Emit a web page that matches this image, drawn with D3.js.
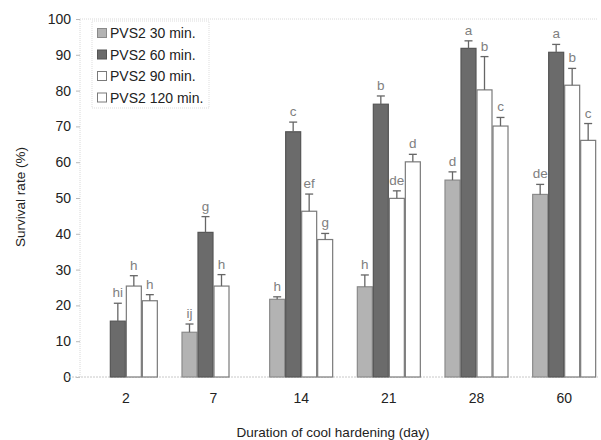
<!DOCTYPE html>
<html><head><meta charset="utf-8">
<script src="https://cdn.jsdelivr.net/npm/d3@7"></script>
<style>body{margin:0;background:#fff;}svg{display:block;font-family:"Liberation Sans",Arial,sans-serif;}</style>
</head><body><svg id="c" width="601" height="440"></svg>
<script>
const categories = ["2", "7", "14", "21", "28", "60"];
const seriesNames = ["PVS2 30 min.", "PVS2 60 min.", "PVS2 90 min.", "PVS2 120 min."];
const s30  = [null, 12.5, 21.7, 25.2, 55.0, 51.0];
const s60  = [15.6, 40.4, 68.5, 76.2, 91.8, 90.7];
const s90  = [25.4, 25.4, 46.3, 49.9, 80.2, 81.5];
const s120 = [21.3, null, 38.4, 60.1, 70.1, 66.1];
const e30  = [null, 2.3, 0.7, 3.3, 2.3, 2.8];
const e60  = [5.0, 4.4, 2.7, 2.3, 2.1, 2.2];
const e90  = [2.9, 3.2, 4.8, 2.1, 9.3, 4.7];
const e120 = [1.7, null, 1.7, 2.1, 2.4, 4.7];
const l30  = [null, "ij", "h", "h", "d", "de"];
const l60  = ["hi", "g", "c", "b", "a", "a"];
const l90  = ["h", "h", "ef", "de", "b", "b"];
const l120 = ["h", null, "g", "d", "c", "c"];
const yTicks = [0, 10, 20, 30, 40, 50, 60, 70, 80, 90, 100];

const values = [s30, s60, s90, s120];
const errs = [e30, e60, e90, e120];
const letters = [l30, l60, l90, l120];
const fills = ["#b3b3b3", "#6b6b6b", "#ffffff", "#ffffff"];
const strokes = ["#8a8a8a", "#555555", "#7a7a7a", "#7a7a7a"];
const FONT = "'Liberation Sans',Arial,sans-serif";

const svg = d3.select("#c");
const x0 = d3.scaleBand().domain(categories).range([82, 608]).paddingInner(0).paddingOuter(0);
const groupW = 64;
const x1 = d3.scaleBand().domain(d3.range(4)).range([0, groupW]).padding(0);
const y = d3.scaleLinear().domain([0, 100]).range([377, 19]);

// frame
svg.append("line").attr("x1", 80).attr("x2", 598).attr("y1", y(100)).attr("y2", y(100))
  .attr("stroke", "#d8d8d8").attr("stroke-dasharray", "1,1");
svg.append("line").attr("x1", 80).attr("x2", 80).attr("y1", y(0)).attr("y2", y(100))
  .attr("stroke", "#d8d8d8").attr("stroke-dasharray", "1,1");

// y axis
const yAxis = svg.append("g").attr("transform", "translate(80,0)")
  .call(d3.axisLeft(y).tickValues(yTicks).tickSize(4).tickPadding(5));
yAxis.select(".domain").remove();
yAxis.selectAll(".tick line").attr("stroke", "#bbb");
yAxis.selectAll(".tick text").attr("font-size", 14).attr("fill", "#222").attr("font-family", FONT);

// x axis labels
const xAxis = svg.append("g").attr("transform", `translate(0,${y(0)})`)
  .call(d3.axisBottom(x0).tickSize(0).tickPadding(16));
xAxis.select(".domain").remove();
xAxis.selectAll(".tick text").attr("font-size", 14).attr("fill", "#222").attr("font-family", FONT);
svg.append("line").attr("x1", 66).attr("x2", 598).attr("y1", y(0)).attr("y2", y(0))
  .attr("stroke", "#c8c8c8").attr("stroke-dasharray", "2,1");

// bars
const groupX = c => x0(c) + (x0.bandwidth() - groupW) / 2;
values.forEach((vals, si) => {
  const g = svg.append("g");
  categories.forEach((c, ci) => {
    const v = vals[ci];
    if (v == null) return;
    const bx = groupX(c) + x1(si);
    const bw = x1.bandwidth();
    g.append("rect").attr("x", bx + 0.5).attr("y", y(v)).attr("width", bw - 1).attr("height", y(0) - y(v))
      .attr("fill", fills[si]).attr("stroke", strokes[si]).attr("stroke-width", 1.2);
    const e = errs[si][ci];
    const cx = bx + bw / 2;
    const top = y(v + e);
    g.append("line").attr("x1", cx).attr("x2", cx).attr("y1", y(v)).attr("y2", top)
      .attr("stroke", "#666").attr("stroke-width", 1.3);
    g.append("line").attr("x1", cx - 4).attr("x2", cx + 4).attr("y1", top).attr("y2", top)
      .attr("stroke", "#666").attr("stroke-width", 1.3);
    const lab = letters[si][ci];
    if (lab) g.append("text").attr("x", cx).attr("y", top - 6).attr("text-anchor", "middle")
      .attr("font-size", 13.5).attr("fill", "#808080").text(lab);
  });
});

// axis titles
svg.append("text").attr("x", 333).attr("y", 437).attr("text-anchor", "middle")
  .attr("font-size", 13.5).attr("fill", "#222").text("Duration of cool hardening (day)");
svg.append("text").attr("transform", "translate(25,197) rotate(-90)").attr("text-anchor", "middle")
  .attr("font-size", 13.5).attr("fill", "#222").text("Survival rate (%)");

// legend
const lg = svg.append("g");
lg.append("rect").attr("x", 92).attr("y", 21).attr("width", 117).attr("height", 87)
  .attr("fill", "#fff").attr("stroke", "#ddd").attr("stroke-dasharray", "1,1");
seriesNames.forEach((n, i) => {
  const cy = 33 + i * 21.5;
  lg.append("rect").attr("x", 97.5).attr("y", cy - 4.5).attr("width", 9).attr("height", 9)
    .attr("fill", fills[i]).attr("stroke", strokes[i]);
  lg.append("text").attr("x", 110).attr("y", cy + 5).attr("font-size", 14).attr("fill", "#222").text(n);
});
</script></body></html>
